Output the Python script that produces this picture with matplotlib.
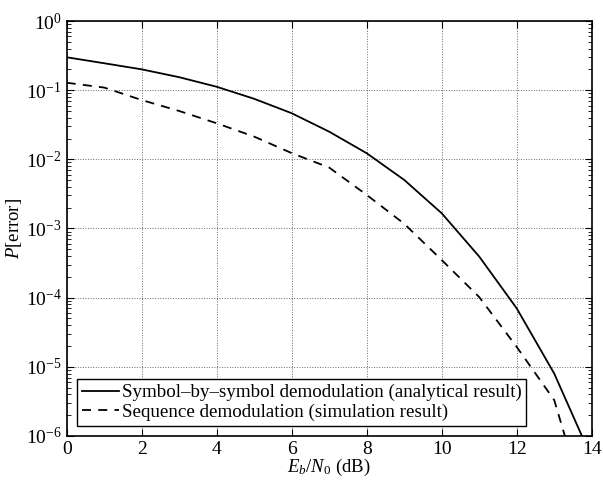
import numpy as np
import matplotlib
matplotlib.use('Agg')
import matplotlib.pyplot as plt

plt.rcParams['font.family'] = ['Liberation Serif', 'DejaVu Serif']
plt.rcParams['mathtext.fontset'] = 'custom'
plt.rcParams['mathtext.rm'] = 'Liberation Serif'
plt.rcParams['mathtext.it'] = 'Liberation Serif:italic'
plt.rcParams['font.size'] = 13.5

ebn0 = np.arange(0, 15)
p_symbol = [0.299, 0.245, 0.200, 0.154, 0.112, 0.075, 0.0464, 0.0251, 0.01225,
            0.00504, 0.00166, 3.93e-4, 7.0e-5, 8.0e-6, 4.8e-7]
p_sequence = [0.128, 0.109, 0.072, 0.050, 0.0332, 0.0213, 0.0123, 0.0076, 0.00306,
              0.00117, 3.5e-4, 1.02e-4, 1.94e-5, 3.3e-6, 5e-8]
labels = ['Symbol–by–symbol demodulation (analytical result)',
          'Sequence demodulation (simulation result)']

fig = plt.figure(figsize=(6.03, 4.84), dpi=100)
ax = fig.add_axes([0.1106, 0.0992, 0.8707, 0.8574])

ax.semilogy(ebn0, p_symbol, 'k-', lw=1.3, label=labels[0])
ax.semilogy(ebn0, p_sequence, 'k--', lw=1.3, dashes=(5, 4), label=labels[1])

ax.set_xlim(0, 14)
ax.set_ylim(1e-6, 1)
ax.set_xticks(np.arange(0, 15, 2))
ax.grid(True, which='major', linestyle=':', color='0.4', linewidth=0.7)
ax.tick_params(which='both', direction='in', top=True, right=True, labelsize=14)
ax.tick_params(which='major', length=5)
ax.tick_params(which='minor', length=3)
for s in ax.spines.values():
    s.set_linewidth(1.2)

ax.set_xlabel('$E_b/N_0$ (dB)', labelpad=-0.5)
ax.set_ylabel('$P$[error]', labelpad=1)

leg = ax.legend(loc='lower left', frameon=True, fancybox=False, borderpad=0.25,
                handlelength=1.95, handletextpad=0.15, labelspacing=0.1,
                borderaxespad=0.55, fontsize=13.7)
leg.get_frame().set_edgecolor('k')
leg.get_frame().set_linewidth(1.0)
leg.get_frame().set_alpha(1)

fig.savefig('out.png', dpi=100)
